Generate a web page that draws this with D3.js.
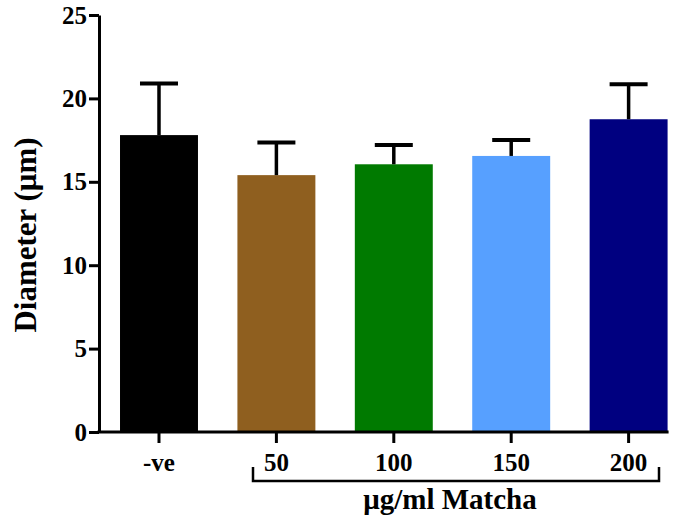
<!DOCTYPE html>
<html>
<head>
<meta charset="utf-8">
<script src="https://d3js.org/d3.v7.min.js"></script>
<style>
  body { margin: 0; background: #fff; }
  text { font-family: "Liberation Serif", "Times New Roman", serif; font-weight: bold; }
</style>
</head>
<body>
<div class="chart"></div>
<script>
// Chart data
var groups = ["-ve", "50", "100", "150", "200"];
var means = [17.8, 15.4, 16.05, 16.55, 18.75];
var errors = [3.1, 1.95, 1.15, 0.95, 2.1];
var colors = ["#000000", "#8f5f1f", "#007a00", "#57a0ff", "#000080"];
var yTicks = [0, 5, 10, 15, 20, 25];

var width = 680;
var height = 518;

var svg = d3.select(".chart")
  .append("svg")
  .attr("width", width)
  .attr("height", height);

// Scales
var y = d3.scaleLinear()
  .domain([0, 25])
  .range([432, 15]);

var x = d3.scaleBand()
  .domain(groups)
  .range([99, 688.6])
  .paddingInner(0.336)
  .paddingOuter(0.179);

// Bars
svg.selectAll(".bar")
  .data(groups)
  .enter()
  .append("rect")
  .attr("class", "bar")
  .attr("x", function(d) { return x(d); })
  .attr("width", x.bandwidth())
  .attr("y", function(d, i) { return y(means[i]); })
  .attr("height", function(d, i) { return y(0) - y(means[i]); })
  .style("fill", function(d, i) { return colors[i]; });

// Error bars (upper only)
var capHalf = 19;
var err = svg.selectAll(".err")
  .data(groups)
  .enter()
  .append("g")
  .attr("class", "err");

err.append("line")
  .attr("x1", function(d) { return x(d) + x.bandwidth() / 2; })
  .attr("x2", function(d) { return x(d) + x.bandwidth() / 2; })
  .attr("y1", function(d, i) { return y(means[i]); })
  .attr("y2", function(d, i) { return y(means[i] + errors[i]); })
  .style("stroke", "#000")
  .style("stroke-width", 3.5);

err.append("line")
  .attr("x1", function(d) { return x(d) + x.bandwidth() / 2 - capHalf; })
  .attr("x2", function(d) { return x(d) + x.bandwidth() / 2 + capHalf; })
  .attr("y1", function(d, i) { return y(means[i] + errors[i]); })
  .attr("y2", function(d, i) { return y(means[i] + errors[i]); })
  .style("stroke", "#000")
  .style("stroke-width", 4);

// Y axis
var yAxis = d3.axisLeft(y)
  .tickValues(yTicks)
  .tickSize(10)
  .tickPadding(2)
  .tickSizeOuter(0);

var yG = svg.append("g")
  .attr("transform", "translate(99,0)")
  .call(yAxis);

yG.select(".domain").style("stroke-width", 3);
yG.selectAll(".tick line").style("stroke-width", 3);
yG.selectAll(".tick text")
  .style("font-size", "25px")
  .style("fill", "#000");

// X axis line, drawn to the end of the last bar
svg.append("line")
  .attr("x1", 97.5)
  .attr("x2", x("200") + x.bandwidth() + 1)
  .attr("y1", y(0))
  .attr("y2", y(0))
  .style("stroke", "#000")
  .style("stroke-width", 3);

var xAxis = d3.axisBottom(x)
  .tickSize(11)
  .tickPadding(10)
  .tickSizeOuter(0);

var xG = svg.append("g")
  .attr("transform", "translate(0," + y(0) + ")")
  .call(xAxis);

xG.select(".domain").remove();
xG.selectAll(".tick line").style("stroke-width", 3);
xG.selectAll(".tick text")
  .style("font-size", "25px")
  .style("fill", "#000");

// Bracket under the Matcha groups
var bx1 = 253;
var bx2 = 659;
svg.append("path")
  .attr("d", "M" + bx1 + ",467 V481 H" + bx2 + " V467")
  .style("fill", "none")
  .style("stroke", "#000")
  .style("stroke-width", 2.5);

svg.append("text")
  .attr("x", (bx1 + bx2) / 2 - 6)
  .attr("y", 509)
  .attr("text-anchor", "middle")
  .style("font-size", "29px")
  .text("μg/ml Matcha");

// Y title
svg.append("text")
  .attr("transform", "translate(36,235) rotate(-90)")
  .attr("text-anchor", "middle")
  .style("font-size", "31px")
  .text("Diameter (μm)");
</script>
</body>
</html>
